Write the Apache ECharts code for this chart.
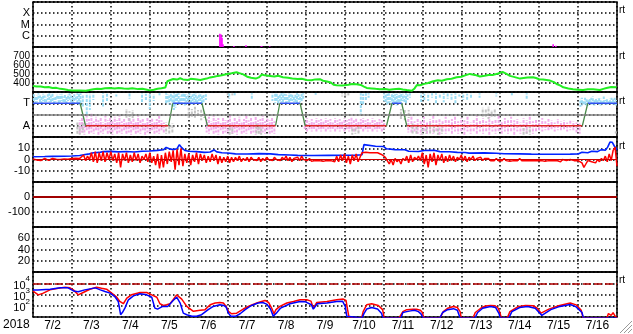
<!DOCTYPE html>
<html><head><meta charset="utf-8">
<script src="https://cdn.jsdelivr.net/npm/echarts@6/dist/echarts.min.js"></script>
<style>html,body{margin:0;padding:0;background:#fff}#c{width:633px;height:334px}</style>
</head><body><div id="c"></div>
<script>
// ---- Data (time in days since 7/2 00:00) ----
const dayLabels = ['7/2','7/3','7/4','7/5','7/6','7/7','7/8','7/9','7/10','7/11','7/12','7/13','7/14','7/15','7/16'];
const yearLabel = '2018';

// X-ray flux spikes [day, W/m2]
const xrayFlux = [[4.80,1.5e-6],[4.83,1.3e-6],[4.855,6.5e-7],[4.88,1.8e-7],[5.16,1.2e-7],[5.47,1.4e-7],[5.86,1.15e-7],[5.88,1.15e-7],[6.08,1.15e-7],[13.36,1.8e-7],[13.43,1.3e-7]];

// Solar wind speed [day, km/s]
const windSpeed = [[0,367],[0.1,362],[0.2,360],[0.3,352],[0.4,355],[0.5,345],[0.6,346],[0.7,335],[0.8,330],[0.9,322],[1.0,318],[1.1,316],[1.2,318],[1.36,315],[1.45,322],[1.55,330],[1.65,337],[1.75,334],[1.85,342],[1.97,345],[2.1,338],[2.2,345],[2.33,340],[2.45,336],[2.55,342],[2.7,332],[2.81,336],[2.9,328],[3.0,318],[3.1,325],[3.2,336],[3.3,341],[3.4,350],[3.45,420],[3.5,434],[3.6,445],[3.7,438],[3.78,453],[3.85,440],[3.98,434],[4.05,446],[4.17,442],[4.3,434],[4.4,445],[4.46,449],[4.55,462],[4.65,470],[4.75,479],[4.85,486],[4.99,501],[5.1,508],[5.23,520],[5.3,510],[5.4,496],[5.5,470],[5.6,458],[5.72,449],[5.8,462],[5.88,494],[5.95,485],[6.09,479],[6.2,472],[6.3,480],[6.42,464],[6.55,458],[6.66,449],[6.8,445],[6.9,448],[7.03,434],[7.15,430],[7.25,440],[7.37,442],[7.45,425],[7.55,416],[7.65,405],[7.72,380],[7.8,375],[7.95,372],[8.1,380],[8.2,388],[8.31,386],[8.42,379],[8.5,360],[8.57,345],[8.7,340],[8.8,335],[8.91,330],[9.05,334],[9.15,326],[9.25,330],[9.4,336],[9.5,328],[9.6,322],[9.73,315],[9.8,340],[9.86,378],[9.94,375],[10.05,390],[10.15,400],[10.28,420],[10.4,430],[10.5,425],[10.63,442],[10.75,448],[10.88,464],[11.0,470],[11.1,485],[11.22,501],[11.35,490],[11.48,472],[11.6,480],[11.7,488],[11.82,490],[11.95,505],[12.06,524],[12.15,505],[12.25,479],[12.35,468],[12.51,449],[12.6,455],[12.7,460],[12.84,464],[12.92,455],[13.0,442],[13.1,438],[13.28,427],[13.38,410],[13.45,389],[13.55,370],[13.62,352],[13.75,340],[13.87,330],[14.0,326],[14.13,322],[14.25,330],[14.39,330],[14.5,326],[14.56,322],[14.65,335],[14.73,345],[14.85,355],[14.99,352]];

// IMF sector boundaries (level 3 = T, 1 = A)
const sectorTimes  = [0,1.21,1.35,3.48,3.59,4.34,4.48,6.23,6.34,6.86,6.99,9.08,9.22,9.47,9.60,14.11,14.25,15];
const sectorLevels = [3,3,1,1,3,3,1,1,3,3,1,1,3,3,1,1,3,3];

// IMF angle scatter, as [day, low, high] in sector units
const phiCyan = [[0.02,3.2,3.8],[0.06,3.0,3.6],[0.1,3.1,3.7],[0.14,3.3,3.9],[0.18,3.1,3.7],[0.22,3.0,3.6],[0.26,3.2,3.85],[0.3,3.0,3.7],[0.34,3.1,3.5],[0.38,3.3,3.8],[0.42,3.1,3.9],[0.46,3.0,3.7],[0.5,3.2,3.9],[0.54,3.0,3.5],[0.58,3.1,3.6],[0.62,3.3,3.8],[0.66,3.0,3.7],[0.7,3.1,3.8],[0.74,3.2,3.85],[0.78,3.0,3.6],[0.82,3.1,3.75],[0.86,3.0,3.6],[0.9,3.2,3.8],[0.94,3.2,3.9],[0.98,3.1,3.7],[1.02,3.0,3.6],[1.06,3.0,3.8],[1.1,3.2,3.6],[1.14,3.0,3.9],[1.18,2.9,3.85],[1.22,2.8,3.9],[1.28,2.6,3.7],[1.38,2.0,3.9],[1.46,2.4,3.85],[1.55,3.3,3.9],[1.8,2.6,3.9],[1.9,3.2,3.85],[2.14,3.6,3.9],[2.48,3.4,3.9],[2.8,3.0,3.9],[2.9,3.3,3.85],[3.0,2.5,3.9],[3.1,3.2,3.8],[3.25,3.6,3.9],[3.42,3.0,3.9],[3.46,3.1,3.8],[3.5,2.9,3.7],[3.54,3.1,3.85],[3.58,2.7,3.8],[3.62,2.4,3.9],[3.66,2.6,3.8],[3.7,3.1,3.9],[3.74,3.0,3.9],[3.78,2.9,3.6],[3.82,3.0,3.8],[3.86,3.1,3.85],[3.9,2.8,3.9],[3.94,3.1,3.8],[3.98,3.0,3.7],[4.02,3.2,3.9],[4.06,3.0,3.7],[4.1,2.9,3.8],[4.14,3.1,3.85],[4.18,3.0,3.9],[4.22,3.0,3.6],[4.26,3.2,3.9],[4.3,3.0,3.8],[4.34,2.9,3.7],[4.38,3.1,3.85],[4.44,3.3,3.8],[5.04,3.4,3.9],[5.18,3.6,3.9],[5.62,3.4,3.9],[6.15,3.2,3.9],[6.22,3.0,3.85],[6.26,3.1,3.9],[6.3,3.0,3.7],[6.34,3.2,3.8],[6.38,3.1,3.9],[6.42,3.0,3.9],[6.46,3.3,3.85],[6.5,3.0,3.8],[6.54,3.1,3.7],[6.58,3.0,3.9],[6.62,3.2,3.8],[6.66,3.2,3.85],[6.7,3.1,3.6],[6.74,3.0,3.8],[6.78,3.0,3.9],[6.82,3.3,3.8],[6.86,3.1,3.7],[6.9,3.1,3.85],[6.94,3.4,3.9],[7.26,3.75,3.9],[8.42,2.0,3.9],[8.48,2.8,3.85],[8.55,3.3,3.9],[8.62,3.5,3.9],[9.02,3.2,3.9],[9.06,3.0,3.8],[9.1,2.9,3.85],[9.14,3.0,3.9],[9.18,3.1,3.7],[9.22,2.7,3.8],[9.26,3.1,3.9],[9.3,3.0,3.8],[9.34,2.8,3.85],[9.38,3.0,3.7],[9.42,3.1,3.9],[9.46,2.9,3.9],[9.5,3.2,3.85],[9.54,3.0,3.7],[9.58,3.0,3.9],[9.62,3.3,3.8],[9.68,3.5,3.9],[9.97,3.0,3.9],[10.05,3.3,3.85],[10.15,3.2,3.9],[10.25,3.5,3.9],[10.35,2.9,3.9],[10.45,3.5,3.85],[10.55,3.1,3.9],[10.65,3.4,3.9],[10.75,3.2,3.85],[10.85,3.0,3.9],[10.95,3.6,3.9],[11.05,3.3,3.9],[11.15,3.2,3.85],[11.25,3.5,3.9],[11.47,3.5,3.9],[11.9,3.6,3.9],[12.3,3.6,3.9],[12.68,3.4,3.9],[14.06,2.7,3.4],[14.1,2.8,3.5],[14.14,2.8,3.3],[14.18,2.9,3.5],[14.22,2.8,3.4],[14.26,2.8,3.3],[14.3,3.0,3.4],[14.34,2.9,3.5],[14.38,2.9,3.6],[14.42,2.8,3.3],[14.46,3.0,3.5],[14.5,3.0,3.4],[14.54,2.9,3.5],[14.58,2.8,3.4],[14.62,2.8,3.3],[14.66,3.0,3.6],[14.7,2.9,3.3],[14.74,2.9,3.4],[14.78,2.8,3.3],[14.82,3.0,3.4],[14.86,3.0,3.5],[14.9,2.9,3.4],[14.94,2.8,3.5],[14.98,2.8,3.3]];
const phiPink = [[1.2,0.3,1.5],[1.26,0.4,1.8],[1.32,0.2,1.3],[1.38,0.5,1.9],[1.44,0.3,1.6],[1.5,0.4,2.1],[1.56,0.3,1.4],[1.62,0.5,1.8],[1.68,0.2,1.5],[1.74,0.4,1.7],[1.8,0.3,1.3],[1.86,0.5,1.9],[1.92,0.3,1.5],[1.98,0.4,1.7],[2.04,0.2,1.4],[2.1,0.5,1.8],[2.16,0.3,1.5],[2.22,0.4,1.9],[2.28,0.3,1.4],[2.34,0.5,1.6],[2.4,0.3,1.3],[2.46,0.4,1.8],[2.52,0.2,1.5],[2.58,0.5,1.7],[2.64,0.3,1.4],[2.7,0.4,1.9],[2.76,0.3,1.5],[2.82,0.5,1.6],[2.88,0.2,1.3],[2.94,0.4,1.8],[3.0,0.3,1.5],[3.06,0.5,1.7],[3.12,0.3,1.4],[3.18,0.4,1.6],[3.24,0.3,1.9],[3.3,0.5,1.5],[3.36,0.4,1.3],[4.46,0.4,1.6],[4.52,0.3,1.8],[4.58,0.5,1.4],[4.64,0.3,1.9],[4.7,0.4,1.5],[4.76,0.2,1.7],[4.82,0.5,1.3],[4.88,0.3,1.8],[4.94,0.4,1.5],[5.0,0.3,1.6],[5.06,0.5,1.9],[5.12,0.3,1.4],[5.18,0.4,1.7],[5.24,0.2,1.5],[5.3,0.5,1.8],[5.36,0.3,1.3],[5.42,0.4,1.6],[5.48,0.3,1.9],[5.54,0.5,1.5],[5.6,0.3,1.7],[5.66,0.4,1.4],[5.72,0.2,1.8],[5.78,0.5,1.5],[5.84,0.3,1.6],[5.9,0.4,1.9],[5.96,0.3,1.4],[6.02,0.5,1.7],[6.08,0.3,1.5],[6.14,0.4,1.8],[6.2,0.3,1.4],[6.98,0.6,1.5],[7.04,0.5,1.7],[7.1,0.7,1.4],[7.16,0.5,1.6],[7.22,0.6,1.3],[7.28,0.5,1.7],[7.34,0.7,1.5],[7.4,0.5,1.6],[7.46,0.6,1.4],[7.52,0.5,1.7],[7.58,0.7,1.5],[7.64,0.5,1.6],[7.7,0.6,1.3],[7.76,0.5,1.7],[7.82,0.7,1.5],[7.88,0.5,1.6],[7.94,0.6,1.4],[8.0,0.5,1.7],[8.06,0.7,1.5],[8.12,0.5,1.6],[8.18,0.6,1.8],[8.24,0.5,1.5],[8.3,0.7,1.7],[8.36,0.5,1.4],[8.42,0.6,1.6],[8.48,0.5,1.7],[8.54,0.7,1.5],[8.6,0.5,1.6],[8.66,0.6,1.3],[8.72,0.5,1.7],[8.78,0.7,1.5],[8.84,0.5,1.4],[8.9,0.6,1.6],[8.96,0.5,1.5],[9.02,0.7,1.3],[9.64,0.4,1.6],[9.72,0.3,1.9],[9.8,0.5,1.4],[9.88,0.3,1.7],[9.96,0.2,1.5],[10.04,0.4,1.8],[10.12,0.3,1.3],[10.2,0.5,1.6],[10.28,0.3,1.9],[10.36,0.4,1.5],[10.44,0.2,1.7],[10.52,0.5,1.4],[10.6,0.3,1.8],[10.68,0.4,1.5],[10.76,0.3,1.6],[10.84,0.5,1.9],[10.92,0.3,1.4],[11.0,0.4,1.7],[11.08,0.2,1.5],[11.16,0.5,1.8],[11.24,0.3,1.3],[11.32,0.4,1.6],[11.4,0.3,1.9],[11.48,0.5,1.5],[11.56,0.3,1.7],[11.64,0.4,1.4],[11.72,0.2,1.8],[11.8,0.5,1.5],[11.88,0.3,1.6],[11.96,0.4,1.9],[12.04,0.3,1.4],[12.12,0.5,1.7],[12.2,0.3,1.5],[12.28,0.4,1.8],[12.36,0.2,1.5],[12.44,0.5,1.6],[12.52,0.3,1.3],[12.6,0.4,1.7],[12.68,0.3,1.5],[12.76,0.5,1.8],[12.84,0.3,1.4],[12.92,0.4,1.6],[13.0,0.6,1.5],[13.08,0.5,1.7],[13.16,0.6,1.4],[13.24,0.5,1.6],[13.32,0.7,1.5],[13.4,0.5,1.3],[13.48,0.6,1.6],[13.56,0.5,1.4],[13.64,0.7,1.5],[13.72,0.5,1.3],[13.8,0.6,1.5],[13.88,0.5,1.4],[13.96,0.4,1.3],[14.04,0.3,1.2]];
const phiGray = [[1.14,0.3,1.3],[1.2,0.2,1.0],[1.28,0.4,1.2],[2.4,1.6,2.5],[2.48,1.4,2.3],[2.56,1.7,2.4],[3.42,0.3,1.3],[3.5,0.2,1.1],[3.58,0.4,1.2],[4.0,1.7,2.6],[4.08,1.8,2.5],[4.16,1.6,2.7],[4.24,1.9,2.4],[4.32,1.5,2.5],[4.4,1.7,2.3],[5.0,3.6,3.9],[5.05,0.2,1.1],[5.12,3.7,3.9],[5.12,0.3,0.9],[5.74,0.2,1.2],[5.8,0.3,1.0],[5.86,0.2,1.1],[7.94,3.6,3.9],[8.02,3.5,3.9],[8.1,3.7,3.9],[8.2,0.2,0.9],[8.28,0.3,0.8],[8.36,0.2,1.0],[9.45,1.6,2.5],[9.55,1.5,2.4],[9.65,1.7,2.4],[9.75,0.2,1.2],[9.85,0.3,1.0],[10.0,0.2,1.1],[10.1,0.3,0.9],[10.2,0.2,1.2],[10.3,0.4,1.0],[10.4,0.2,0.9],[10.5,0.3,1.1],[11.55,1.7,2.6],[11.63,1.8,2.5],[11.7,1.6,2.7],[11.78,1.8,2.4],[11.86,1.7,2.5],[12.6,0.2,0.8],[12.68,0.3,0.7],[12.76,0.2,0.9],[14.97,0.2,0.5]];

// IMF Bt (nT) [day, value]
const imfBt = [[0,2.5],[0.3,2.6],[0.5,2.8],[0.8,2.9],[1.0,3.1],[1.2,3.6],[1.3,4.2],[1.45,5.0],[1.55,6.0],[1.7,6.3],[1.8,7.0],[2.0,7.2],[2.2,6.8],[2.4,7.1],[2.6,6.7],[2.8,7.4],[3.0,7.6],[3.2,8.1],[3.35,8.6],[3.42,10.8],[3.5,9.5],[3.6,8.8],[3.7,9.6],[3.76,13.2],[3.82,10.5],[3.9,8.0],[4.0,7.4],[4.2,7.0],[4.4,6.3],[4.55,6.6],[4.65,8.5],[4.72,6.8],[4.85,6.0],[5.0,5.8],[5.2,5.0],[5.5,4.9],[5.8,5.2],[6.1,5.0],[6.3,4.3],[6.6,4.0],[6.8,3.7],[7.2,3.6],[7.6,3.7],[8.0,3.8],[8.3,3.9],[8.45,4.2],[8.5,13.2],[8.55,12.2],[8.8,11.8],[9.0,11.6],[9.08,9.5],[9.3,8.8],[9.55,8.7],[9.65,7.4],[9.9,7.1],[10.05,8.0],[10.3,8.2],[10.45,7.0],[10.7,6.9],[10.9,6.3],[11.1,6.2],[11.2,5.7],[11.6,5.9],[11.9,5.6],[12.1,5.1],[12.5,5.0],[12.8,4.8],[13.3,4.7],[13.8,4.8],[14.0,4.9],[14.1,6.5],[14.15,7.4],[14.25,6.0],[14.35,7.3],[14.5,7.0],[14.6,8.8],[14.7,8.2],[14.76,11],[14.82,15.5],[14.88,15.2],[14.93,12],[15,8.6]];

// IMF Bz (nT), sampled every bzStep days from day 0
const bzStep = 0.05;
const imfBz = [
 0.5,1,-0.5,0.8,-1,0.5,1,0,-0.8,0.6,1,-0.5,0.3,0.8,0,1,0.5,0.9,0.2,1,
 1,0.8,1.2,0.5,1,2,4,-1,3,0,6,-2,7,-3,6,-1,7,-2,6,0,
 7,-1,5,-3,6,-7,5,-1,6,-3,4,-2,6,-1,5,-3,3,0,5,-2,
 6,-3,3,-5,5,-8,4,-7,6,-4,7,-2,8,-9,9,-5,10,-6,5,-3,
 5,-5,4,-2,6,-4,5,-1,4,-3,3,-2,5,-1,4,-4,3,-3,2,-2,
 3,-3,2,-2,2,-1,3,-2,1,-1,2,-2,2,0,1,-1,2,-2,1,-1,
 2,0,1,-1,2,0,1,-1,2,0,3,-1,2,-2,1,0,2,-1,3,0,
 0,-1,1,-1.5,0,-1,0,-1,-0.5,-1.5,0,-1,-0.5,-1,0,-2,3,-2,4,-1,
 5,-3,3,-4,4,-1,5,-2,2,6,6,6.5,5.5,6,6.5,6,7,6,5,4.5,
 4,2,-1,-4,0,-5,1,-2,0,-4,1,-1,3,-3,4,-2,2,0,3,-1,
 6,-4,4,-7,5,-2,6,-5,4,-1,5,-3,3,-2,4,-1,3,-2,2,0,
 4,-1,3,-2,2,0,3,-1,1,0,2,-1,1,0,1,-1,0,-1,1,-1,
 0,-1,1,-1,0,-1.5,0,-1,0,-1,1,-1,0,-1,0,-1,-0.5,-1,0,-1,
 0,-1,0,-1.5,0,-1,0.5,-1,0,-1,-0.5,-2,0,-1,-1,-2,0,-1.5,-1,-2,
 -1,-2,-3,-7,-4,-1,0,-2,-1,-3,0,-2,1,-1,3,-2,5,-1,8,11,
 -6];

// Electron flux [day, flux]
const electronRed = [[0,1950],[0.137,933],[0.265,1318],[0.436,2570],[0.65,3630],[0.822,4467],[0.95,3890],[1.036,2570],[1.16,933],[1.29,1514],[1.46,2951],[1.635,4467],[1.76,3630],[1.89,2951],[2.02,1318],[2.15,575],[2.23,240],[2.32,151],[2.41,479],[2.53,933],[2.75,1514],[2.92,1514],[3.05,933],[3.18,575],[3.26,151],[3.35,107],[3.43,123],[3.52,151],[3.6,339],[3.69,933],[3.82,389],[3.95,87],[4.12,32],[4.29,39],[4.42,45],[4.55,123],[4.68,174],[4.8,195],[4.89,174],[4.96,87],[5.02,32],[5.1,19.5],[5.23,22],[5.4,51],[5.57,100],[5.75,174],[5.87,240],[5.96,295],[6.05,195],[6.13,62],[6.19,19.5],[6.24,45],[6.34,87],[6.52,174],[6.69,240],[6.86,339],[7.03,339],[7.14,257],[7.2,60],[7.29,195],[7.55,240],[7.8,339],[7.97,389],[8.04,295],[8.08,45],[8.12,8],[8.44,8],[8.48,30],[8.57,123],[8.7,151],[8.87,107],[8.98,45],[9.02,8],[9.4,8],[9.5,30],[9.6,45],[9.75,48],[9.85,48],[9.95,40],[10.0,25],[10.04,8],[10.45,8],[10.54,30],[10.65,60],[10.8,87],[10.9,70],[10.97,30],[11.0,8],[11.3,8],[11.36,25],[11.5,60],[11.62,95],[11.75,107],[11.87,100],[11.95,60],[12.0,20],[12.03,8],[12.18,8],[12.25,30],[12.45,80],[12.65,107],[12.85,100],[12.95,60],[13.05,22],[13.1,16],[13.25,50],[13.5,100],[13.8,174],[13.95,120],[14.08,40],[14.13,8],[14.74,8],[14.78,20],[14.85,14],[14.9,24],[14.95,12],[15,8]];
const electronBlue = [[0,2570],[0.12,2570],[0.44,2951],[0.7,3890],[0.9,3890],[1.04,2089],[1.16,1738],[1.33,2570],[1.6,3890],[1.73,2570],[1.85,1820],[1.98,1318],[2.1,661],[2.19,240],[2.25,16],[2.3,26],[2.36,62],[2.45,339],[2.58,759],[2.75,1150],[2.92,933],[3.05,575],[3.13,62],[3.2,50],[3.33,87],[3.46,87],[3.6,295],[3.69,575],[3.78,174],[3.86,22],[3.95,16],[4.08,11.5],[4.2,11.5],[4.33,16],[4.5,45],[4.63,87],[4.8,123],[4.9,107],[4.96,76],[5.02,22],[5.08,11.5],[5.2,11.5],[5.32,19.5],[5.45,45],[5.6,100],[5.78,174],[5.9,195],[6.0,141],[6.1,51],[6.17,12],[6.25,22],[6.36,62],[6.6,151],[6.86,240],[7.0,224],[7.15,123],[7.2,50],[7.3,151],[7.55,174],[7.8,240],[7.95,257],[8.02,87],[8.06,11.5],[8.1,8],[8.45,8],[8.5,20],[8.57,51],[8.7,71],[8.85,51],[8.95,22],[8.99,8],[9.45,8],[9.5,25],[9.6,30],[9.7,35],[9.8,40],[9.9,30],[9.97,18],[10.02,8],[10.45,8],[10.52,25],[10.65,45],[10.8,55],[10.9,40],[10.97,8],[11.35,8],[11.42,25],[11.55,60],[11.75,87],[11.88,70],[11.97,20],[12.0,8],[12.22,8],[12.3,30],[12.5,70],[12.7,87],[12.9,60],[13.0,25],[13.07,14],[13.12,18],[13.3,45],[13.5,80],[13.8,130],[13.95,80],[14.1,25],[14.14,8],[15,8]];

// ---- Chart ----
const FONT = 'Liberation Sans, Arial, sans-serif';
const N = 7, TOP0 = 2, H = 45, LEFT = 33, W = 584;
const grids = [], xAxes = [], yAxes = [];
for (let i = 0; i < N; i++) {
  grids.push({left: LEFT, top: TOP0 + H * i, width: W, height: H, show: true,
    borderColor: '#000', borderWidth: 1.5, backgroundColor: 'transparent'});
  xAxes.push({type: 'value', gridIndex: i, min: 0, max: 15, interval: 1,
    axisLine: {show: false}, axisTick: {show: false}, axisLabel: {show: false},
    splitLine: {show: true, lineStyle: {color: '#000', width: 1.5, type: [1.5, 2.5]}}});
}
xAxes.push({type: 'category', gridIndex: 6, data: dayLabels, boundaryGap: true, position: 'bottom',
  axisLine: {show: false}, axisTick: {show: false}, splitLine: {show: false},
  axisLabel: {interval: 0, margin: 3, color: '#000', fontSize: 12, fontFamily: FONT}});

const dotted = {show: true, lineStyle: {color: '#000', width: 1.5, type: [1.5, 2.5]}};
const lab = (extra) => Object.assign({color: '#000', fontSize: 11, fontFamily: FONT, margin: 3,
  showMinLabel: false, showMaxLabel: false}, extra || {});
const noLine = {show: false};
yAxes.push({type: 'log', gridIndex: 0, logBase: 10, min: 1e-7, max: 1e-3, axisLine: noLine, axisTick: noLine,
  splitLine: dotted, axisLabel: lab({formatter: v => ({'-4': 'X', '-5': 'M', '-6': 'C'})[Math.round(Math.log10(v))] || ''})});
yAxes.push({type: 'value', gridIndex: 1, min: 300, max: 800, interval: 100, axisLine: noLine, axisTick: noLine,
  splitLine: dotted, axisLabel: lab({fontSize: 10, fontFamily: 'Liberation Sans Narrow, ' + FONT})});
yAxes.push({type: 'value', gridIndex: 2, min: 0, max: 4, interval: 1, axisLine: noLine, axisTick: noLine,
  splitLine: dotted, axisLabel: lab({formatter: v => v === 3 ? 'T' : (v === 1 ? 'A' : '')})});
yAxes.push({type: 'value', gridIndex: 3, min: -20, max: 20, interval: 10, axisLine: noLine, axisTick: noLine,
  splitLine: dotted, axisLabel: lab()});
yAxes.push({type: 'value', gridIndex: 4, min: -200, max: 100, interval: 100, axisLine: noLine, axisTick: noLine,
  splitLine: dotted, axisLabel: lab()});
yAxes.push({type: 'value', gridIndex: 5, min: 0, max: 80, interval: 20, axisLine: noLine, axisTick: noLine,
  splitLine: dotted, axisLabel: lab()});
yAxes.push({type: 'log', gridIndex: 6, logBase: 10, min: 10, max: 1e5, axisLine: noLine, axisTick: noLine,
  splitLine: dotted, axisLabel: lab({
    formatter: v => { const e = Math.round(Math.log10(v)); return (e >= 2 && e <= 4) ? '{b|10}{s|' + e + '}' : ''; },
    rich: {b: {fontSize: 11, fontFamily: FONT, color: '#000', verticalAlign: 'bottom', lineHeight: 16},
           s: {fontSize: 8, fontFamily: FONT, color: '#000', verticalAlign: 'top', lineHeight: 16}}})});

// speckled vertical segments for the IMF angle scatter
function segRender(color) {
  return function (params, api) {
    const d = api.value(0);
    const p1 = api.coord([d, api.value(1)]);
    const p2 = api.coord([d, api.value(2)]);
    return {type: 'line', shape: {x1: p1[0], y1: p1[1], x2: p2[0], y2: p2[1]},
      style: {stroke: color, lineWidth: 2, lineDash: [3, 1.2], lineDashOffset: (params.dataIndex * 5) % 4}};
  };
}
function spikeRender(params, api) {
  const p = api.coord([api.value(0), api.value(1)]);
  const cs = params.coordSys;
  const bottom = cs.y + cs.height;
  return {type: 'rect', shape: {x: p[0] - 0.75, y: p[1], width: 1.5, height: bottom - p[1]}, style: {fill: '#ff00ff'}};
}

// sector line pieces
const secBlue = [], secRed = [], secGreen = [];
for (let i = 0; i < sectorTimes.length - 1; i++) {
  const a = [sectorTimes[i], sectorLevels[i]], b = [sectorTimes[i + 1], sectorLevels[i + 1]];
  const tgt = (a[1] === 3 && b[1] === 3) ? secBlue : (a[1] === 1 && b[1] === 1) ? secRed : secGreen;
  tgt.push(a, b, [null, null]);
}
const bzData = imfBz.map((v, i) => [i * bzStep, v]);

const ml = (y, color, width, type) => ({silent: true, symbol: ['none', 'none'], label: {show: false},
  animation: false, lineStyle: {color, width, type}, emphasis: {disabled: true}, data: [{yAxis: y}]});
const lineS = (xi, data, color, width, extra) => Object.assign({type: 'line', xAxisIndex: xi, yAxisIndex: xi, data,
  showSymbol: false, symbol: 'none', lineStyle: {color, width}, connectNulls: false, animation: false, z: 3}, extra || {});

const series = [
  {type: 'custom', xAxisIndex: 0, yAxisIndex: 0, data: xrayFlux, renderItem: spikeRender, encode: {x: 0, y: 1}, clip: true, animation: false},
  lineS(1, windSpeed, '#22ee22', 2),
  {type: 'custom', xAxisIndex: 2, yAxisIndex: 2, data: phiPink, renderItem: segRender('#f2aeec'), encode: {x: 0, y: [1, 2]}, clip: true, animation: false, z: 1},
  {type: 'custom', xAxisIndex: 2, yAxisIndex: 2, data: phiGray, renderItem: segRender('#c4c4c4'), encode: {x: 0, y: [1, 2]}, clip: true, animation: false, z: 1},
  {type: 'custom', xAxisIndex: 2, yAxisIndex: 2, data: phiCyan, renderItem: segRender('#9adcf4'), encode: {x: 0, y: [1, 2]}, clip: true, animation: false, z: 1},
  lineS(2, [], '#808080', 1.5, {markLine: ml(2, '#808080', 1.5, 'solid'), z: 2}),
  lineS(2, secBlue, '#3050f0', 1.3),
  lineS(2, secRed, '#e02828', 1.3),
  lineS(2, secGreen, '#4a8a4a', 1.3),
  lineS(3, imfBt, '#0022ff', 1.6),
  lineS(3, bzData, '#ff0000', 1.5, {markLine: ml(0, '#d00000', 1, 'solid')}),
  lineS(4, [], '#a00000', 2, {markLine: ml(0, '#a00000', 2, 'solid')}),
  lineS(6, [], '#a00000', 1.5, {markLine: ml(1e4, '#b00000', 1.5, [8, 3])}),
  lineS(6, electronRed, '#ff0000', 1.5),
  lineS(6, electronBlue, '#0000ff', 1.5)
];

const rtText = (y) => ({type: 'text', left: 619, top: y, silent: true,
  style: {text: 'rt', fill: '#000', font: '10px ' + FONT}});
const chart = echarts.init(document.getElementById('c'), null, {renderer: 'canvas'});
chart.setOption({
  animation: false,
  backgroundColor: '#fff',
  textStyle: {fontFamily: FONT},
  grid: grids, xAxis: xAxes, yAxis: yAxes, series,
  graphic: [
    {type: 'text', left: 3, top: 319, silent: true, style: {text: yearLabel, fill: '#000', font: '12px ' + FONT}},
    rtText(5), rtText(51), rtText(96), rtText(141), rtText(275),
    {type: 'line', silent: true, shape: {x1: 620, y1: 333, x2: 632, y2: 321}, style: {stroke: '#999', lineWidth: 1}},
    {type: 'line', silent: true, shape: {x1: 624, y1: 333, x2: 632, y2: 325}, style: {stroke: '#999', lineWidth: 1}},
    {type: 'line', silent: true, shape: {x1: 628, y1: 333, x2: 632, y2: 329}, style: {stroke: '#999', lineWidth: 1}}
  ]
});
</script></body></html>
